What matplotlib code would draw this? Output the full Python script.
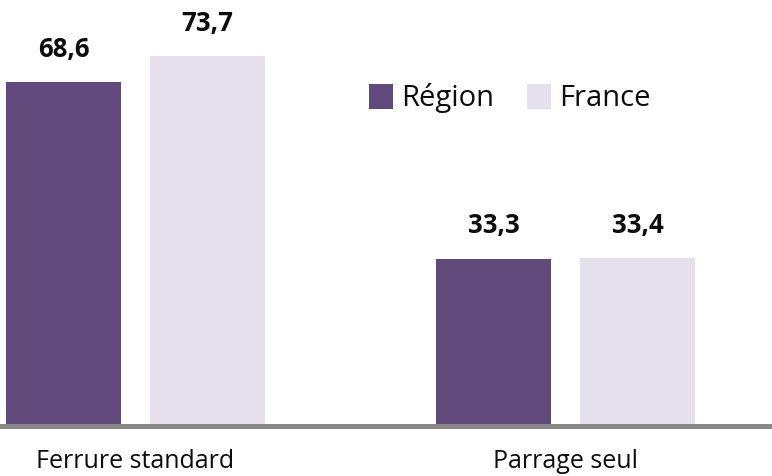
import matplotlib
matplotlib.use("Agg")
import matplotlib.pyplot as plt
from matplotlib.patches import Patch

categories = ["Ferrure standard", "Parrage seul"]
series_names = ["Région", "France"]
region_values = [68.6, 33.3]
france_values = [73.7, 33.4]
value_labels_region = ["68,6", "33,3"]
value_labels_france = ["73,7", "33,4"]

c_region = "#604a7b"
c_france = "#e5e0ec"

plt.rcParams['font.family'] = ['Open Sans', 'DejaVu Sans']

fig = plt.figure(figsize=(7.72, 4.76), dpi=100)
ax = fig.add_axes([0, 50.5/476, 1, 400.8/476])

x = list(range(len(categories)))
w = 0.267
off = 0.1674
xr = [i - off for i in x]
xf = [i + off for i in x]
b1 = ax.bar(xr, region_values, width=w, color=c_region, zorder=2)
b2 = ax.bar(xf, france_values, width=w, color=c_france, zorder=2)

for xs, vals, labs in [(xr, region_values, value_labels_region), (xf, france_values, value_labels_france)]:
    for xi, v, lab in zip(xs, vals, labs):
        ax.annotate(lab, (xi, v), xytext=(0, 23.6), textcoords="offset points",
                    ha="center", va="center", fontsize=18.5, fontweight="bold", color="#0d0d0d")

ax.set_xlim(-135.5/430, (772-565.5)/430 + 1)
ax.set_ylim(0, 80)
ax.set_xticks(x)
ax.set_xticklabels(categories, fontsize=18, color="#0d0d0d")
ax.tick_params(axis="x", length=0, pad=17)
ax.set_yticks([])
for s in ["top", "left", "right"]:
    ax.spines[s].set_visible(False)
ax.spines["bottom"].set_color("#898989")
ax.spines["bottom"].set_linewidth(3.6)
ax.spines["bottom"].set_zorder(3)

handles = [Patch(facecolor=c_region, label=series_names[0]),
           Patch(facecolor=c_france, label=series_names[1])]
fig.legend(handles=handles, loc="center", bbox_to_anchor=(509.5/772, 1 - 98.5/476),
           ncol=2, frameon=False, fontsize=21, handlelength=0.82, handleheight=0.9,
           handletextpad=0.28, columnspacing=1.12, labelcolor="#0d0d0d",
           borderpad=0, borderaxespad=0)

fig.savefig("out.png", dpi=100)
